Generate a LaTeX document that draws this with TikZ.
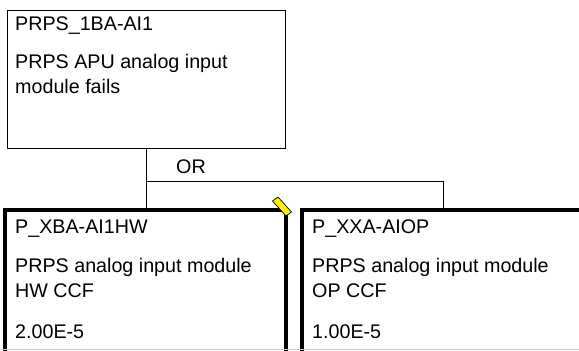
\documentclass[tikz,border=0pt]{standalone}
\usepackage{fontspec}
\setmainfont{Liberation Sans}
\usetikzlibrary{positioning, calc}
\definecolor{flag}{HTML}{FFF200}
\definecolor{edge}{HTML}{C8C8C8}

\begin{document}
\begin{tikzpicture}[x=1pt, y=-1pt,
  gatebox/.style={draw, line width=1pt, minimum width=278pt, minimum height=138pt,
    outer sep=0pt, anchor=north west},
  evbox/.style={draw, line width=3.3pt, minimum height=170pt, outer sep=0pt,
    anchor=north west},
  txt/.style={font=\fontsize{19.7}{23}\selectfont, inner sep=0pt, anchor=base west},
  wire/.style={line width=1pt}]
  \clip (0,0) rectangle (579,351);
  % gate and its two basic events
  \node[gatebox] (gate) at (7,10) {};
  \node[evbox, minimum width=281pt] (hw) at (5,210) {};
  \node[evbox, minimum width=300pt] (op) at (302,210) {};
  % OR connectors
  \coordinate (orjn) at ($(gate.south)+(0,33)$);
  \draw[wire] (gate.south) -- (gate.south |- hw.north);
  \draw[wire] (orjn) -| ([xshift=141pt]op.north west);
  \node[txt] (orlbl) at (176,173) {OR};
  % texts
  \foreach \t/\dy [count=\i] in {PRPS\_1BA-AI1/20, PRPS APU analog input/58,
                                 module fails/83}
    \node[txt] (gate-l\i) at ([shift={(8,\dy)}]gate.north west) {\t};
  \foreach \t/\dy [count=\i] in {P\_XBA-AI1HW/23, PRPS analog input module/62,
                                 HW CCF/87, 2.00E-5/128}
    \node[txt] (hw-l\i) at ([shift={(10,\dy)}]hw.north west) {\t};
  \foreach \t/\dy [count=\i] in {P\_XXA-AIOP/23, PRPS analog input module/62,
                                 OP CCF/87, 1.00E-5/128}
    \node[txt] (op-l\i) at ([shift={(10,\dy)}]op.north west) {\t};
  % yellow marker on the corner
  \draw[fill=flag, line width=0.7pt] (272.5,201) -- (278,197) -- (291.5,212)
    -- (286,216) -- cycle;
  \draw[edge, line width=0.8pt] (0,349.5) -- (579,349.5);
\end{tikzpicture}
\end{document}
